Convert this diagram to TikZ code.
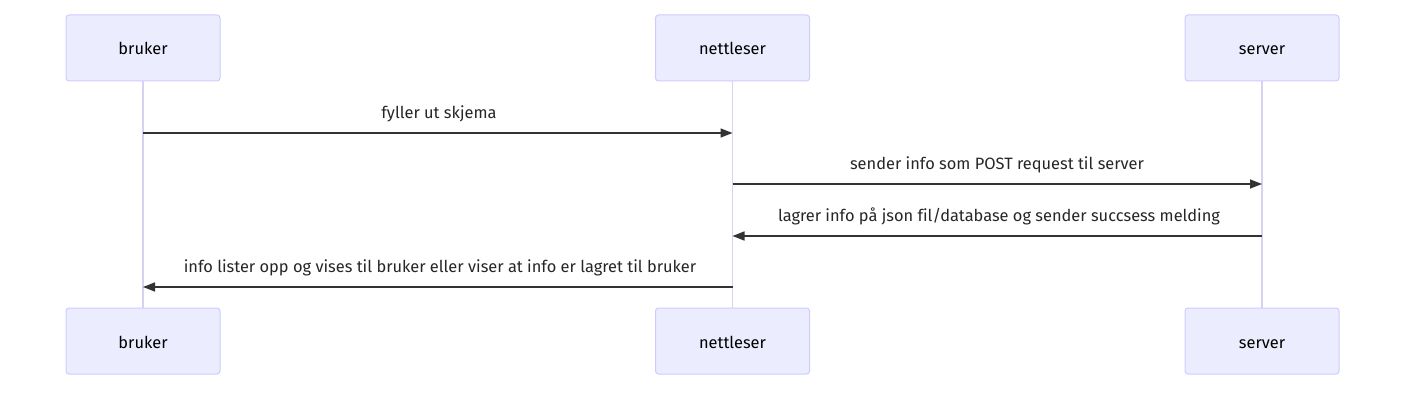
\documentclass[tikz,border=0pt]{standalone}
\usepackage{fontspec}
\setmainfont[Ligatures=NoCommon]{Fira Sans}
\usetikzlibrary{arrows.meta,positioning}
\definecolor{boksfyll}{HTML}{ECECFF}
\definecolor{bokskant}{HTML}{CCCCFF}
\definecolor{livslinje}{HTML}{D9D0F4}
\definecolor{pilfarge}{HTML}{333333}
\begin{document}
\begin{tikzpicture}[x=1pt,y=-1pt,
    aktor/.style={draw=bokskant,fill=boksfyll,rounded corners=3pt,
      minimum width=154pt,minimum height=66pt,line width=1pt,
      text height=16pt,text depth=2pt,
      font=\fontsize{16.4}{19}\selectfont,text=black},
    melding/.style={draw=pilfarge,line width=1.5pt,
      -{Triangle[length=12pt,width=9pt]}},
    tekst/.style={font=\fontsize{16.4}{19}\selectfont,text=black!85}]
    \useasboundingbox (0,0) rectangle (1422,404);
    % deltakere
    \node[aktor](bruker)at(143,48){bruker};
    \node[aktor](nettleser)at(732.5,48){nettleser};
    \node[aktor](server)at(1262,48){server};
    \node[aktor](brukerB)at(143,341){bruker};
    \node[aktor](nettleserB)at(732.5,341){nettleser};
    \node[aktor](serverB)at(1262,341){server};
    % livslinjer
    \draw[livslinje,line width=1.5pt](bruker)--(brukerB);
    \draw[livslinje,line width=1.5pt](nettleser)--(nettleserB);
    \draw[livslinje,line width=1.5pt](server)--(serverB);
    % meldinger
    \draw[melding](bruker.south|-0,133)--(nettleser.south|-0,133);
    \node[tekst](m1)at(439,113.5){fyller ut skjema};
    \draw[melding](nettleser.south|-0,184)--(server.south|-0,184);
    \node[tekst](m2)at(997,164.5){sender info som POST request til server};
    \draw[melding](server.south|-0,236)--(nettleser.south|-0,236);
    \node[tekst](m3)at(999,216.5){lagrer info på json fil/database og sender succsess melding};
    \draw[melding](nettleser.south|-0,287)--(bruker.south|-0,287);
    \node[tekst](m4)at(440,267.5){info lister opp og vises til bruker eller viser at info er lagret til bruker};
  \end{tikzpicture}
\end{document}
